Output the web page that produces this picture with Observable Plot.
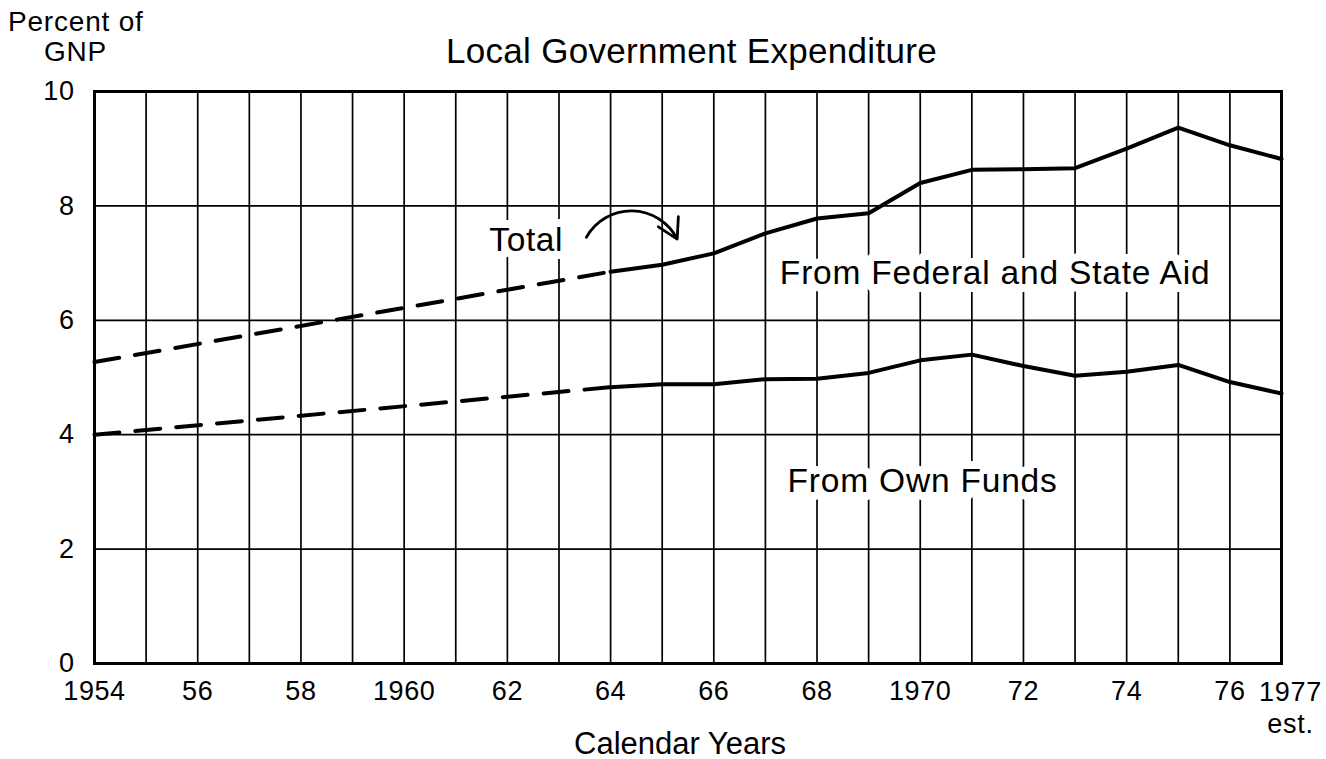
<!DOCTYPE html>
<html>
<head>
<meta charset="utf-8">
<script src="https://cdn.jsdelivr.net/npm/d3@7"></script>
<script src="https://cdn.jsdelivr.net/npm/@observablehq/plot@0.6"></script>
<style>
  html, body { margin: 0; padding: 0; background: #fff; }
  #wrap { position: relative; width: 1326px; height: 759px; font-family: "Liberation Sans", Arial, Helvetica, sans-serif; color: #000; }
  #wrap svg { position: absolute; left: 0; top: 0; }
  .lbl { position: absolute; white-space: nowrap; line-height: 1; }
</style>
</head>
<body>
<div id="wrap">
  <div class="lbl" style="left:8px; top:8px; font-size:28px; letter-spacing:0.8px;">Percent of</div>
  <div class="lbl" style="left:44px; top:38px; font-size:28px; letter-spacing:0.8px;">GNP</div>
  <div class="lbl" style="left:446px; top:33px; font-size:35px; letter-spacing:0.3px;">Local Government Expenditure</div>
  <div class="lbl" style="left:574px; top:728px; font-size:31px;">Calendar Years</div>
</div>
<script>
// ---- data ----
const years    = [1954, 1964, 1965, 1966, 1967, 1968, 1969, 1970, 1971, 1972, 1973, 1974, 1975, 1976, 1977];
const totalPct = [5.27, 6.85, 6.97, 7.17, 7.52, 7.78, 7.87, 8.40, 8.63, 8.64, 8.66, 9.00, 9.37, 9.06, 8.82];
const ownPct   = [4.00, 4.83, 4.88, 4.88, 4.97, 4.98, 5.08, 5.30, 5.40, 5.20, 5.03, 5.10, 5.22, 4.92, 4.72];
const estimatedUntil = 1964;   // dashed (estimated) portion ends here

const gridYears   = d3.range(1954, 1978);
const xTickValues = [1954, 1956, 1958, 1960, 1962, 1964, 1966, 1968, 1970, 1972, 1974, 1976];
const xTickLabels = ["1954", "56", "58", "1960", "62", "64", "66", "68", "1970", "72", "74", "76"];
const lastTickValue = 1977;
const lastTickLabel = "1977\nest.";
const yTicks      = [0, 2, 4, 6, 8, 10];

const labelNames = ["From Federal and State Aid", "From Own Funds", "Total"];
const labelYears = [1967.28, 1967.43, 1961.65];
const labelPcts  = [6.64, 2.99, 7.22];
const arrowFrom  = [1963.53, 7.45];
const arrowTo    = [1965.29, 7.42];

// ---- build tables ----
const rows = [];
years.forEach((yr, i) => {
  rows.push({year: yr, value: totalPct[i], series: "Total"});
  rows.push({year: yr, value: ownPct[i], series: "Own"});
});
const dashedRows = rows.filter(d => d.year <= estimatedUntil);
const solidRows  = rows.filter(d => d.year >= estimatedUntil);
const labels = labelNames.map((t, i) => ({text: t, x: labelYears[i], y: labelPcts[i]}));
const tickLabel = new Map(xTickValues.map((v, i) => [v, xTickLabels[i]]));

const font = '"Liberation Sans", Arial, Helvetica, sans-serif';

const chart = Plot.plot({
  width: 1326,
  height: 759,
  marginLeft: 94,
  marginRight: 45,
  marginTop: 91,
  marginBottom: 96,
  style: {fontFamily: font, background: "transparent", color: "#000"},
  x: {domain: [1954, 1977]},
  y: {domain: [0, 10]},
  marks: [
    Plot.gridX(gridYears, {stroke: "#000", strokeOpacity: 1, strokeWidth: 1.7}),
    Plot.gridY(yTicks, {stroke: "#000", strokeOpacity: 1, strokeWidth: 1.7}),
    Plot.frame({stroke: "#000", strokeWidth: 3}),
    Plot.axisX(xTickValues, {
      tickSize: 0, tickPadding: 17, fontSize: 27, label: null,
      tickFormat: d => tickLabel.get(d)
    }),
    Plot.text([lastTickLabel], {
      x: [lastTickValue], frameAnchor: "bottom", dy: 14, dx: 9, text: d => d,
      fontSize: 27, lineAnchor: "top", lineHeight: 1.2
    }),
    Plot.axisY(yTicks, {tickSize: 0, tickPadding: 20, fontSize: 27, label: null, tickFormat: d => String(d)}),
    Plot.line(dashedRows, {x: "year", y: "value", z: "series", stroke: "#000", strokeWidth: 4, strokeDasharray: "25,16"}),
    Plot.line(solidRows, {x: "year", y: "value", z: "series", stroke: "#000", strokeWidth: 4, strokeLinejoin: "round"}),
    Plot.text(labels, {
      x: "x", y: "y", text: "text", textAnchor: "start", lineAnchor: "bottom", fontSize: 33.5,
      fill: "#000", stroke: "#fff", strokeWidth: 16, strokeLinejoin: "round", paintOrder: "stroke"
    }),
    Plot.arrow([{x1: arrowFrom[0], y1: arrowFrom[1], x2: arrowTo[0], y2: arrowTo[1]}], {
      x1: "x1", y1: "y1", x2: "x2", y2: "y2", bend: 62, stroke: "#000", strokeWidth: 2.8, headLength: 12
    })
  ]
});
chart.querySelectorAll("text").forEach(t => {
  t.style.letterSpacing = t.textContent.length > 6 ? "0.8px" : "0.6px";
});
document.getElementById("wrap").prepend(chart);
</script>
</body>
</html>
